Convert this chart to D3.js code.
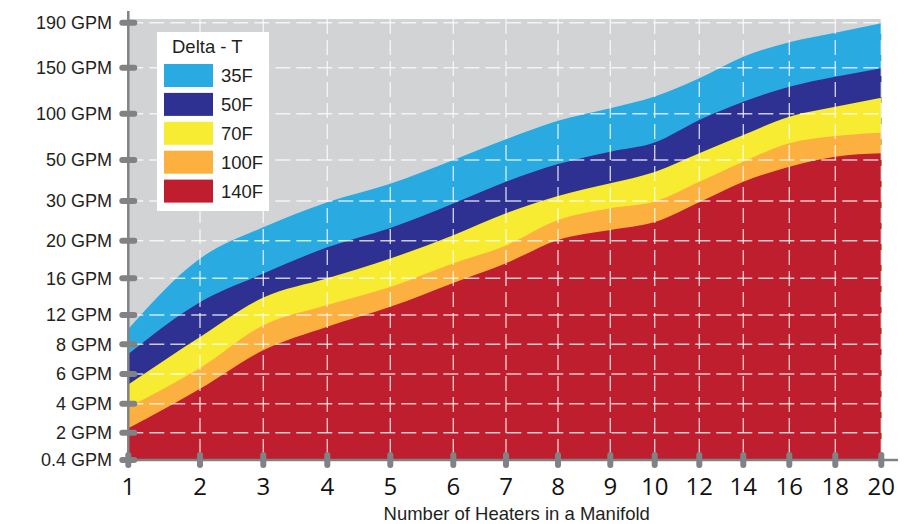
<!DOCTYPE html>
<html>
<head>
<meta charset="utf-8">
<script src="https://cdn.jsdelivr.net/npm/d3@7"></script>
<style>
  html, body { margin: 0; padding: 0; background: #fff; }
  svg { display: block; }
</style>
</head>
<body>
<svg id="chart" width="921" height="524"></svg>
<script>
// ---------------- DATA ----------------
const heaters = [1, 2, 3, 4, 5, 6, 7, 8, 9, 10, 12, 14, 16, 18, 20];
const yTickValues = [0.4, 2, 4, 6, 8, 12, 16, 20, 30, 50, 100, 150, 190];
const seriesNames = ["35F", "50F", "70F", "100F", "140F"];
const gpm35F  = [10.1, 18.1, 23.4, 29.7, 38.4, 50.0, 72.4, 92.4, 105.9, 118.7, 138.5, 159.8, 172.6, 181.1, 189.5];
const gpm50F  = [7.35, 13.4, 16.5, 19.3, 23.2, 29.4, 39.4, 48.0, 59.0, 68.9, 93.2, 113.0, 129.3, 140.2, 149.5];
const gpm70F  = [5.3, 9.0, 13.9, 16.0, 18.1, 21.4, 26.9, 32.4, 38.6, 44.1, 57.2, 77.0, 96.8, 107.6, 117.4];
const gpm100F = [3.75, 6.4, 10.6, 13.1, 15.05, 17.6, 19.5, 25.2, 28.2, 29.9, 39.4, 49.2, 68.0, 75.9, 79.5];
const gpm140F = [2.3, 5.0, 7.6, 10.4, 12.9, 15.5, 17.6, 20.2, 22.7, 24.7, 29.7, 39.4, 46.7, 53.6, 57.2];
const legendTitle = "Delta - T";
const xTitle = "Number of Heaters in a Manifold";

// ---------------- LAYOUT / STYLE ----------------
const xRangePx = [128.3, 200, 263.3, 327.3, 390.3, 453.3, 506, 558, 610.3, 654.7, 699.3, 743.3, 789.3, 835.3, 881.3];
const yRangePx = [460, 432.7, 403.7, 374, 344.3, 315, 278.3, 240.7, 201, 160, 113.7, 67.7, 22.7];
const colors = ["#29ABE2", "#2E3192", "#F7EC31", "#FBB040", "#BE1E2D"];
const plotTop = 19, plotLeft = 128.3, plotRight = 881.3, plotBottom = 460;
const axisColor = "#808285";

const svg = d3.select("#chart");

const x = d3.scaleLinear().domain(heaters).range(xRangePx);
const y = d3.scaleLinear().domain(yTickValues).range(yRangePx);

// background
svg.append("rect")
  .attr("x", plotLeft).attr("y", plotTop)
  .attr("width", plotRight - plotLeft).attr("height", plotBottom - plotTop)
  .attr("fill", "#D1D3D4");

// areas
const allSeries = [gpm35F, gpm50F, gpm70F, gpm100F, gpm140F];
const area = d3.area()
  .x((d, i) => x(heaters[i]))
  .y0(y(yTickValues[0]))
  .y1(d => y(d))
  .curve(d3.curveMonotoneX);

svg.append("g").selectAll("path")
  .data(allSeries)
  .join("path")
  .attr("d", d => area(d))
  .attr("fill", (d, i) => colors[i]);

// grid
const grid = svg.append("g")
  .attr("stroke", "#fff")
  .attr("stroke-opacity", 0.75)
  .attr("stroke-width", 1.4)
  .attr("stroke-dasharray", "15,6");

grid.selectAll("line.h")
  .data(yTickValues.slice(1))
  .join("line")
  .attr("class", "h")
  .attr("x1", plotLeft).attr("x2", plotRight)
  .attr("y1", d => y(d)).attr("y2", d => y(d));

grid.selectAll("line.v")
  .data(heaters.slice(1))
  .join("line")
  .attr("class", "v")
  .attr("x1", d => x(d)).attr("x2", d => x(d))
  .attr("y1", plotTop).attr("y2", plotBottom);

// axis lines
svg.append("line")
  .attr("x1", plotLeft).attr("x2", plotLeft)
  .attr("y1", 11).attr("y2", plotBottom + 3)
  .attr("stroke", axisColor).attr("stroke-width", 2.5);
svg.append("line")
  .attr("x1", plotLeft - 2).attr("x2", 898)
  .attr("y1", plotBottom).attr("y2", plotBottom)
  .attr("stroke", axisColor).attr("stroke-width", 2.5);

// y tick capsules & labels
const yAxisG = svg.append("g");
yAxisG.selectAll("line")
  .data(yTickValues)
  .join("line")
  .attr("x1", plotLeft - 6).attr("x2", plotLeft + 6)
  .attr("y1", d => y(d)).attr("y2", d => y(d))
  .attr("stroke", axisColor).attr("stroke-width", 6)
  .attr("stroke-linecap", "round");
yAxisG.selectAll("text")
  .data(yTickValues)
  .join("text")
  .attr("x", 112)
  .attr("y", d => y(d))
  .attr("dy", "0.36em")
  .attr("text-anchor", "end")
  .attr("font-family", "'Liberation Sans', Arial, sans-serif")
  .attr("font-size", 18)
  .attr("fill", "#231F20")
  .text(d => d + " GPM");

// x tick capsules & labels
const xAxisG = svg.append("g");
xAxisG.selectAll("line")
  .data(heaters)
  .join("line")
  .attr("x1", d => x(d)).attr("x2", d => x(d))
  .attr("y1", plotBottom - 5).attr("y2", plotBottom + 5)
  .attr("stroke", axisColor).attr("stroke-width", 6)
  .attr("stroke-linecap", "round");
xAxisG.selectAll("text")
  .data(heaters)
  .join("text")
  .attr("x", d => x(d))
  .attr("y", 495)
  .attr("text-anchor", "middle")
  .attr("font-family", "'Open Sans', sans-serif")
  .attr("font-size", 24)
  .attr("fill", "#111")
  .text(d => d);

// x title
svg.append("text")
  .attr("x", 516.7).attr("y", 520)
  .attr("text-anchor", "middle")
  .attr("font-family", "'Liberation Sans', Arial, sans-serif")
  .attr("font-size", 18.5)
  .attr("fill", "#231F20")
  .text(xTitle);

// legend
const lg = svg.append("g");
lg.append("rect")
  .attr("x", 157).attr("y", 32)
  .attr("width", 112).attr("height", 179)
  .attr("fill", "#fff");
lg.append("text")
  .attr("x", 172).attr("y", 53)
  .attr("font-family", "'Liberation Sans', Arial, sans-serif")
  .attr("font-size", 18.5)
  .attr("fill", "#231F20")
  .text(legendTitle);
const items = lg.selectAll("g.item")
  .data(seriesNames)
  .join("g")
  .attr("class", "item")
  .attr("transform", (d, i) => `translate(0, ${i * 28.9})`);
items.append("rect")
  .attr("x", 164).attr("y", 64)
  .attr("width", 49).attr("height", 23)
  .attr("fill", (d, i) => colors[i]);
items.append("text")
  .attr("x", 221).attr("y", 82)
  .attr("font-family", "'Liberation Sans', Arial, sans-serif")
  .attr("font-size", 18.5)
  .attr("fill", "#231F20")
  .text(d => d);
</script>
</body>
</html>
